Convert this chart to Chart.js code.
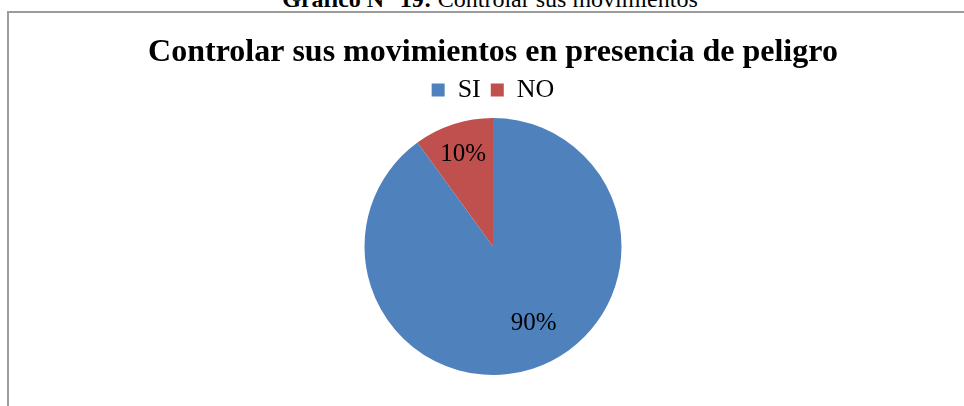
<!DOCTYPE html>
<html>
<head>
<meta charset="utf-8">
<script src="https://cdn.jsdelivr.net/npm/chart.js@4.4.0/dist/chart.umd.min.js"></script>
<style>
    html, body { margin: 0; padding: 0; background: #ffffff; }
    #wrap { position: relative; width: 964px; height: 406px; overflow: hidden; }
    #caption {
        position: absolute; left: 0; width: 980px; top: -13px;
        text-align: center; font-family: "Liberation Serif", serif;
        font-size: 24px; line-height: 24px; color: #000;
    }
    #frame {
        position: absolute; left: 7px; top: 11px; width: 1000px; height: 500px;
        border-left: 2px solid #9c9c9c; border-top: 2px solid #9c9c9c;
    }
    #chartBox { position: absolute; left: 0; top: 0; width: 964px; height: 406px; }
</style>
</head>
<body>
<div id="wrap">
    <div id="caption"><b>Gráfico N° 19:</b> Controlar sus movimientos</div>
    <div id="frame"></div>
    <div id="chartBox"><canvas id="pieChart"></canvas></div>
</div>
<script>
// Chart data
const titleText = 'Controlar sus movimientos en presencia de peligro';
const categories = ['SI', 'NO'];
const percentages = [90, 10];
const sliceColors = ['#4F81BD', '#C0504D'];

// Simple percentage labels drawn on each slice
const sliceLabels = {
    id: 'sliceLabels',
    afterDatasetsDraw(chart, args, opts) {
        const ctx = chart.ctx;
        const meta = chart.getDatasetMeta(0);
        ctx.save();
        ctx.font = '25px "Liberation Serif"';
        ctx.fillStyle = '#000000';
        ctx.textAlign = 'center';
        ctx.textBaseline = 'middle';
        meta.data.forEach((arc, i) => {
            const p = arc.getProps(['x', 'y', 'startAngle', 'endAngle', 'outerRadius']);
            const mid = (p.startAngle + p.endAngle) / 2 + (opts.shift[i] || 0);
            const r = p.outerRadius * opts.dist[i];
            ctx.fillText(percentages[i] + '%', p.x + Math.cos(mid) * r, p.y + Math.sin(mid) * r);
        });
        ctx.restore();
    }
};

function initPieChart() {
    const ctx = document.getElementById('pieChart');
    if (!ctx) return;

    new Chart(ctx, {
        type: 'pie',
        data: {
            labels: categories,
            datasets: [{
                data: percentages,
                backgroundColor: sliceColors,
                borderWidth: 0,
                radius: 128.5
            }]
        },
        options: {
            responsive: true,
            maintainAspectRatio: false,
            animation: false,
            layout: { padding: { left: 22, bottom: 26 } },
            plugins: {
                title: {
                    display: true,
                    text: titleText,
                    color: '#000000',
                    font: { family: '"Liberation Serif"', size: 32, weight: 'bold', lineHeight: 1.0 },
                    padding: { top: 37, bottom: -2 }
                },
                legend: {
                    position: 'top',
                    labels: {
                        color: '#000000',
                        boxWidth: 13,
                        boxHeight: 13,
                        padding: 10,
                        font: { family: '"Liberation Serif"', size: 26 }
                    }
                },
                tooltip: { enabled: false },
                sliceLabels: { dist: [0.68, 0.75], shift: [-0.17, 0] }
            }
        },
        plugins: [sliceLabels]
    });
}

initPieChart();
</script>
</body>
</html>
